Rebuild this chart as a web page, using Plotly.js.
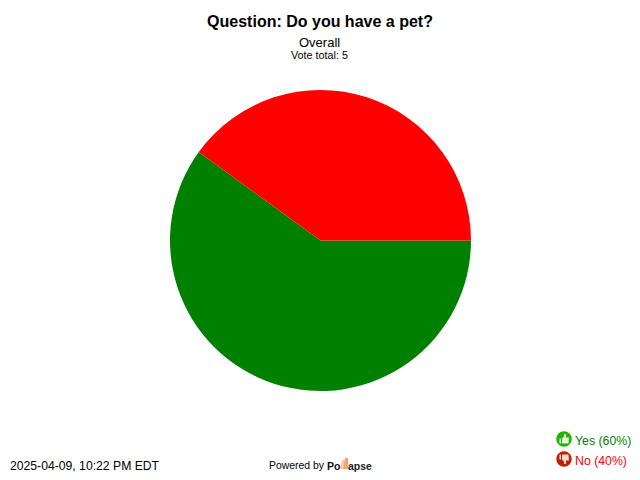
<!DOCTYPE html>
<html>
<head>
<meta charset="utf-8">
<script src="https://cdn.plot.ly/plotly-3.0.1.min.js"></script>
<style>html,body{margin:0;padding:0;background:#fff}</style>
</head>
<body>
<div id="chart" style="width:640px;height:480px"></div>
<script>
var labels = ['Yes', 'No'];
var votes = [3, 2];
var colors = ['#008000', '#ff0000'];
var percents = [60, 40];

var W = 640, H = 480;
var FONT = '"Liberation Sans", Arial, sans-serif';

function px(x) { return x / W; }
function py(y) { return 1 - y / H; }

// text placed by pixel position from top left
function note(text, x, y, size, color, anchor) {
    return {
        text: text, xref: 'paper', yref: 'paper', x: px(x), y: py(y),
        xanchor: anchor || 'left', yanchor: 'middle', showarrow: false,
        font: {family: FONT, size: size, color: color || '#000'}, borderpad: 0
    };
}

function svgPath(points) {
    return 'M' + points.map(function (p) { return px(p[0]) + ',' + py(p[1]); }).join('L') + 'Z';
}

function circle(cx, cy, r, fill, line) {
    return {
        type: 'circle', xref: 'paper', yref: 'paper',
        x0: px(cx - r), x1: px(cx + r), y0: py(cy + r), y1: py(cy - r),
        fillcolor: fill, line: {color: line, width: 1.5}
    };
}

function poly(points, fill) {
    return {type: 'path', xref: 'paper', yref: 'paper', path: svgPath(points), fillcolor: fill, line: {width: 0}};
}

var trace = {
    type: 'pie',
    labels: labels,
    values: votes,
    sort: false,
    direction: 'clockwise',
    rotation: 90,
    textinfo: 'none',
    hoverinfo: 'label+percent',
    marker: {colors: colors, line: {width: 0}},
    domain: {x: [px(170), px(471)], y: [py(391), py(90)]}
};

var layout = {
    width: W,
    height: H,
    margin: {l: 0, r: 0, t: 0, b: 0},
    paper_bgcolor: '#fff',
    showlegend: false,
    title: {
        text: '<b>Question: Do you have a pet?</b>',
        x: 0.5, xanchor: 'center', xref: 'paper',
        y: py(21), yanchor: 'middle', yref: 'container',
        font: {family: FONT, size: 16, color: '#000'}
    },
    annotations: [
        note('Overall', 319.5, 42, 13, '#000', 'center'),
        note('Vote total: 5', 319.5, 55.5, 10.8, '#000', 'center'),
        note('2025-04-09, 10:22 PM EDT', 9, 466, 12.2, '#000'),
        note('Powered by', 268, 465.5, 10.4, '#000'),
        note('<b>Po</b>', 325.5, 465.5, 10.5, '#111'),
        note('<b>apse</b>', 347, 465.5, 10.5, '#222'),
        note(labels[0] + ' (' + percents[0] + '%)', 574, 441, 12.3, colors[0]),
        note(labels[1] + ' (' + percents[1] + '%)', 574, 461, 12.3, colors[1])
    ],
    shapes: [
        // logo marks
        poly([[342, 460], [345, 460], [343, 469], [340, 469]], '#fbc9a0'),
        poly([[345, 458], [348, 458], [348, 469], [343, 469]], '#f7a468'),
        // thumbs up icon
        circle(564, 439, 7, '#1eb400', '#1eb400'),
        poly([[559.5, 438.5], [561, 438.5], [561, 443.5], [559.5, 443.5]], '#e8f5e0'),
        poly([[562, 438.5], [564, 436.5], [564, 434], [566, 434], [566, 437.5], [569, 437.5], [568.5, 443.5], [562, 443.5]], '#e8f5e0'),
        // thumbs down icon
        circle(564, 459, 7, '#c02000', '#c02000'),
        poly([[559.5, 454.5], [561, 454.5], [561, 459.5], [559.5, 459.5]], '#f5d8d0'),
        poly([[562, 454.5], [568.5, 454.5], [569, 460.5], [566, 460.5], [566, 464], [564, 464], [564, 461.5], [562, 459.5]], '#f5d8d0')
    ]
};

Plotly.newPlot('chart', [trace], layout, {displayModeBar: false, staticPlot: true});
</script>
</body>
</html>
